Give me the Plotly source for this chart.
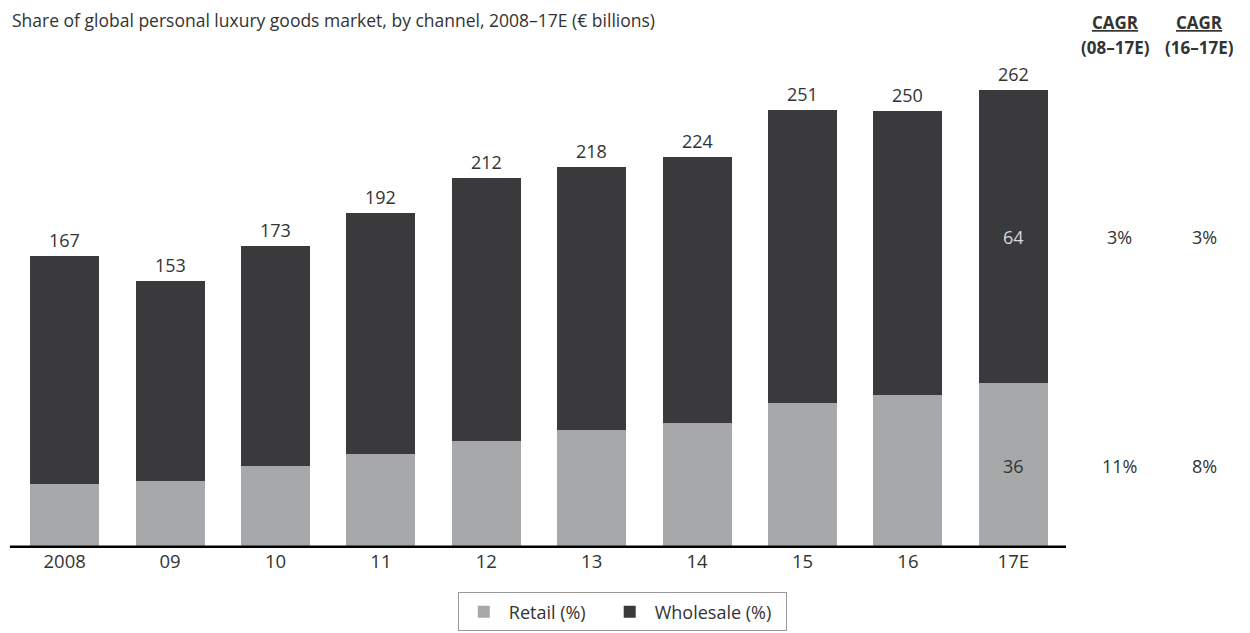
import plotly.graph_objects as go

categories = ["2008", "09", "10", "11", "12", "13", "14", "15", "16", "17E"]
totals = [167, 153, 173, 192, 212, 218, 224, 251, 250, 262]
retail_share = [22, 25, 27, 28, 29, 31, 32, 33, 35, 36]
last_labels = {"retail": "36", "wholesale": "64"}
cagr_headers = ["(08–17E)", "(16–17E)"]
cagr_wholesale = ["3%", "3%"]
cagr_retail = ["11%", "8%"]
series_names = ["Retail (%)", "Wholesale (%)"]

retail = [t * s / 100 for t, s in zip(totals, retail_share)]
wholesale = [t - r for t, r in zip(totals, retail)]
idx = list(range(len(categories)))

FONT = "Open Sans"
TXT = "#333333"
RETAIL_C = "#a7a8aa"
WHOLE_C = "#3a393b"
NB = "\u00a0"

fig = go.Figure()
fig.add_trace(go.Bar(x=idx, y=retail, name=series_names[0] + NB * 3, marker_color=RETAIL_C,
                     marker_line_width=0, hoverinfo="skip"))
fig.add_trace(go.Bar(x=idx, y=wholesale, name=series_names[1] + NB * 2, marker_color=WHOLE_C,
                     marker_line_width=0, hoverinfo="skip"))

ann = []
for i, t in zip(idx, totals):
    ann.append(dict(x=i, y=t, text=str(t), showarrow=False, yanchor="bottom", yshift=2,
                    xanchor="center", font=dict(family=FONT, size=18, color=TXT)))
ann.append(dict(x=idx[-1], y=retail[-1] / 2, text=last_labels["retail"], showarrow=False,
                xanchor="center", font=dict(family=FONT, size=18, color=TXT)))
ann.append(dict(x=idx[-1], y=retail[-1] + wholesale[-1] / 2, text=last_labels["wholesale"],
                xanchor="center", showarrow=False, font=dict(family=FONT, size=18, color="#d8d8d8")))

head_x = [1.0465, 1.1262]
val_x = [1.0512, 1.1314]
for i in range(2):
    ann.append(dict(x=head_x[i], xref="paper", xanchor="center", y=1.0, yref="paper", yshift=37,
                    yanchor="middle", text="<b><u>CAGR</u></b>", showarrow=False,
                    font=dict(family=FONT, size=17, color=TXT)))
    ann.append(dict(x=head_x[i], xref="paper", xanchor="center", y=1.0, yref="paper", yshift=12,
                    yanchor="middle", text="<b>" + cagr_headers[i] + "</b>", showarrow=False,
                    font=dict(family=FONT, size=17, color=TXT)))
    ann.append(dict(x=val_x[i], xref="paper", xanchor="center", y=retail[-1] + wholesale[-1] / 2,
                    text=cagr_wholesale[i], showarrow=False,
                    font=dict(family=FONT, size=18, color=TXT)))
    ann.append(dict(x=val_x[i], xref="paper", xanchor="center", y=retail[-1] / 2,
                    text=cagr_retail[i], showarrow=False,
                    font=dict(family=FONT, size=18, color=TXT)))

ann.append(dict(x=-0.002, xref="paper", xanchor="left", y=1.0, yref="paper", yshift=39,
                yanchor="middle", showarrow=False,
                text="Share of global personal luxury goods market, by channel, 2008–17E (€ billions)",
                font=dict(family=FONT, size=17.5, color=TXT)))

fig.update_layout(
    width=1250, height=633,
    margin=dict(l=4, r=192, t=51, b=93),
    barmode="stack", bargap=0.345,
    plot_bgcolor="white", paper_bgcolor="white",
    showlegend=True,
    legend=dict(orientation="h", x=0.579, xanchor="center", y=-0.091, yanchor="top",
                bordercolor="#999999", borderwidth=1, itemwidth=40,
                font=dict(family=FONT, size=18, color=TXT), traceorder="normal"),
    xaxis=dict(range=[-0.5, len(categories) - 0.5], tickmode="array", tickvals=idx,
               ticktext=categories, showgrid=False, showline=False, ticks="", zeroline=False,
               tickfont=dict(family=FONT, size=18.5, color=TXT)),
    yaxis=dict(range=[0, 280], visible=False, showgrid=False, zeroline=False),
    annotations=ann,
    shapes=[dict(type="line", xref="paper", yref="y", x0=-0.002, x1=1.0, y0=0, y1=0,
                 line=dict(color="black", width=5), layer="above")],
)

fig.write_html("out.html")
